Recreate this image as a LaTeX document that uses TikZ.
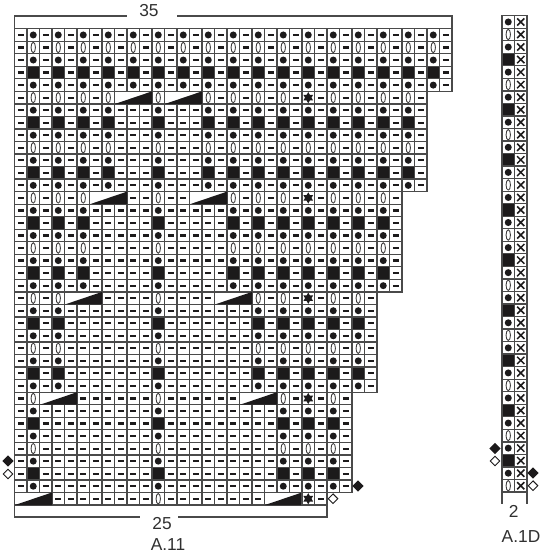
\documentclass[tikz,border=0pt]{standalone}
\usepackage{fontspec}
\setmainfont{Liberation Sans}
\definecolor{gridc}{HTML}{4A4A4A}
\definecolor{inkc}{HTML}{1C1A1B}
\definecolor{textc}{HTML}{303030}
\tikzset{
  cellbox/.style={draw=gridc,fill=white,line width=0.95pt},
  blackcell/.style={draw=gridc,fill=inkc,line width=0.95pt},
  dashmark/.style={draw=inkc,line width=1.65pt},
  dotmark/.style={fill=inkc},
  ovalmark/.style={draw=inkc!85!white,fill=white,line width=0.65pt},
  wedgemark/.style={fill=inkc},
  starmark/.style={fill=inkc},
  crossmark/.style={draw=inkc,line width=1.15pt},
  bracketline/.style={draw=gridc,line width=1pt},
  soliddiamond/.style={fill=inkc},
  opendiamond/.style={draw=inkc,fill=white,line width=0.7pt},
  lbl/.style={text=textc,font=\fontsize{13pt}{15pt}\selectfont,inner sep=0pt}
}
\newcommand\cw{12.5}
\newcommand\rh{12.534}
% cell corners from column #2 (1-based) and row #3 (from the bottom)
\newcommand\setcell[4][0]{%
  \pgfmathsetmacro\xl{#1+(#2-1)*\cw}%
  \pgfmathsetmacro\xr{\xl+\cw}%
  \pgfmathsetmacro\yb{#4-(#3-1)*\rh}%
  \pgfmathsetmacro\yt{\yb-\rh}%
  \pgfmathsetmacro\xc{\xl+\cw/2}%
  \pgfmathsetmacro\yc{\yb-\rh/2}%
}
\newcommand\dashat{\draw[dashmark] (\xc-3,\yc) -- (\xc+3,\yc);}
\newcommand\dotat{\fill[dotmark] (\xc,\yc) circle[radius=3.5];}
\newcommand\ovalat{\draw[ovalmark] (\xc,\yc) ellipse[x radius=2.2,y radius=5.2];}
\newcommand\symbolcell[1]{%
  \pgfmathtruncatemacro\rtype{mod(#1,4)}%
  \ifnum\rtype=3
    \draw[blackcell] (\xl,\yt) rectangle (\xr,\yb);
  \else
    \draw[cellbox] (\xl,\yt) rectangle (\xr,\yb);
    \ifnum\rtype=1 \ovalat \else \dotat \fi
  \fi
}
\newcommand\chartband[4]{%
  \foreach \rr in {#1,...,#2}{
    \foreach \cc in {1,...,#3}{
      \setcell[14.5]{\cc}{\rr}{505}
      \draw[cellbox] (\xl,\yt) rectangle (\xr,\yb);
      \dashat
    }
    \foreach \cc in {#4}{
      \setcell[14.5]{\cc}{\rr}{505}
      \symbolcell{\rr}
    }
  }
}
\newcommand\wedgecell[2]{%
  \setcell[14.5]{#1}{#2}{505}
  \pgfmathsetmacro\xe{\xl+3*\cw}%
  \draw[cellbox] (\xl,\yt) rectangle (\xe,\yb);
  \fill[wedgemark] (\xl+0.5,\yb) -- (\xe,\yt) -- (\xe,\yb) -- cycle;
}
\newcommand\starcell[1]{%
  \setcell[14.5]{24}{#1}{505}
  \draw[cellbox] (\xl,\yt) rectangle (\xr,\yb);
  \fill[starmark,shift={(\xc,\yc)}] (90:5.6) -- (210:5.6) -- (330:5.6) -- cycle
    (270:5.6) -- (30:5.6) -- (150:5.6) -- cycle;
}
\newcommand\soliddia[2]{\fill[soliddiamond] (#1-5.6,#2) -- (#1,#2-5.6) -- (#1+5.6,#2) -- (#1,#2+5.6) -- cycle;}
\newcommand\opendia[2]{\draw[opendiamond] (#1-4.8,#2) -- (#1,#2-4.8) -- (#1+4.8,#2) -- (#1,#2+4.8) -- cycle;}
\begin{document}
\begin{tikzpicture}[x=0.75pt,y=-0.75pt]
\useasboundingbox (0,0) rectangle (550,560);
% main chart
\chartband{34}{38}{35}{2,4,...,34}
\chartband{26}{33}{33}{2,4,6,8,12,16,18,20,...,32}
\chartband{18}{25}{31}{2,4,6,12,18,20,...,30}
\chartband{10}{17}{29}{2,4,12,20,22,24,26,28}
\chartband{2}{9}{27}{2,12,22,24,26}
\chartband{1}{1}{25}{12}
\foreach \tc/\tr in {9/33,13/33,7/25,15/25,5/17,17/17,3/9,19/9,1/1,21/1}{\wedgecell{\tc}{\tr}}
\foreach \tr in {33,25,17,9,1}{\starcell{\tr}}
% top bracket
\node[lbl] (n35) at (149,11) {35};
\coordinate (tl) at (14.5,28.7);
\coordinate (tr) at (452,28.7);
\draw[bracketline] (tl) -- (14.5,16) -- (127,16);
\draw[bracketline] (177,16) -- (452,16) -- (tr);
% bottom bracket
\node[lbl] (n25) at (162,524) {25};
\node[lbl] (a11) at (168,545) {A.11};
\draw[bracketline] (14.5,505) -- (14.5,517) -- (140,517);
\draw[bracketline] (178,517) -- (327,517) -- (327,505);
% diamonds of the main chart
\soliddia{8}{461}
\opendia{8}{474}
\soliddia{358}{486}
\opendia{333}{498.7}
% A.1D
\foreach \rr in {1,...,38}{
  \setcell[502]{1}{\rr}{492}
  \symbolcell{\rr}
  \setcell[502]{2}{\rr}{492}
  \draw[cellbox] (\xl,\yt) rectangle (\xr,\yb);
  \draw[crossmark] (\xc-3.6,\yc-3.6) -- (\xc+3.6,\yc+3.6) (\xc-3.6,\yc+3.6) -- (\xc+3.6,\yc-3.6);
}
\draw[bracketline] (502,492) -- (502,504);
\draw[bracketline] (527,492) -- (527,504);
\node[lbl] (n2) at (513.7,511) {2};
\node[lbl] (a1d) at (521,537) {A.1D};
\soliddia{495}{448.5}
\opendia{495}{461}
\soliddia{533}{473}
\opendia{533}{485.7}
\end{tikzpicture}
\end{document}
